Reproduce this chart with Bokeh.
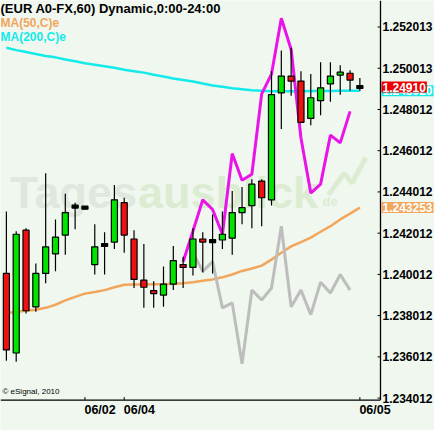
from bokeh.plotting import figure
from bokeh.models import Range1d, Label
from bokeh.core.properties import value
from bokeh.embed import file_html
from bokeh.resources import INLINE

# ---------------- data ----------------
TITLE = "(EUR A0-FX,60) Dynamic,0:00-24:00"
MA50_NAME = "MA(50,C)e"
MA200_NAME = "MA(200,C)e"
COPYRIGHT = "© eSignal, 2010"

OPEN = [1.24006, 1.23620, 1.24216, 1.23844, 1.24006, 1.24101, 1.24192, 1.24330, 1.24325, 1.24049,
        1.24144, 1.24158, 1.24349, 1.24173, 1.23973, 1.23920, 1.23901, 1.23954, 1.24049, 1.24035,
        1.24173, 1.24163, 1.24168, 1.24177, 1.24301, 1.24335, 1.24454, 1.24363, 1.24882, 1.24963,
        1.24939, 1.24758, 1.24844, 1.24925, 1.24968, 1.24977, 1.24910]
HIGH = [1.24306, 1.24211, 1.24225, 1.24054, 1.24492, 1.24268, 1.24392, 1.24349, 1.24330, 1.24244,
        1.24206, 1.24435, 1.24373, 1.24216, 1.24149, 1.23968, 1.24039, 1.24139, 1.24087, 1.24225,
        1.24206, 1.24292, 1.24306, 1.24406, 1.24425, 1.24463, 1.24463, 1.24987, 1.25087, 1.25101,
        1.24987, 1.24973, 1.25030, 1.25030, 1.25016, 1.24992, 1.24954]
LOW = [1.23582, 1.23577, 1.23811, 1.23820, 1.23958, 1.24016, 1.24096, 1.24220, 1.24320, 1.24001,
       1.24001, 1.24125, 1.24106, 1.23935, 1.23839, 1.23839, 1.23844, 1.23925, 1.23935, 1.23996,
       1.24011, 1.24006, 1.24125, 1.24096, 1.24244, 1.24225, 1.24235, 1.24335, 1.24706, 1.24868,
       1.24735, 1.24725, 1.24773, 1.24839, 1.24873, 1.24892, 1.24892]
CLOSE = [1.23635, 1.24196, 1.23825, 1.24006, 1.24135, 1.24182, 1.24301, 1.24330, 1.24325, 1.24135,
         1.24144, 1.24363, 1.24192, 1.23977, 1.23939, 1.23911, 1.23954, 1.24068, 1.24035, 1.24173,
         1.24158, 1.24163, 1.24196, 1.24301, 1.24325, 1.24439, 1.24373, 1.24873, 1.24963, 1.24939,
         1.24739, 1.24858, 1.24906, 1.24963, 1.24982, 1.24944, 1.24910]

MA50 = [1.23813, 1.23820, 1.23825, 1.23830, 1.23839, 1.23854, 1.23875, 1.23892, 1.23908, 1.23916,
        1.23925, 1.23939, 1.23951, 1.23952, 1.23952, 1.23954, 1.23954, 1.23956, 1.23958, 1.23963,
        1.23970, 1.23977, 1.23987, 1.24001, 1.24018, 1.24030, 1.24044, 1.24073, 1.24106, 1.24137,
        1.24158, 1.24180, 1.24208, 1.24235, 1.24268, 1.24296, 1.243253]
MA200 = [1.25101, 1.25089, 1.25080, 1.25070, 1.25061, 1.25054, 1.25044, 1.25035, 1.25025, 1.25018,
         1.25011, 1.25004, 1.24994, 1.24987, 1.24980, 1.24970, 1.24961, 1.24951, 1.24944, 1.24937,
         1.24927, 1.24918, 1.24911, 1.24904, 1.24899, 1.24894, 1.24892, 1.24890, 1.24890, 1.24890,
         1.24890, 1.24891, 1.24891, 1.24891, 1.24892, 1.24892, 1.24892]

MAGENTA_START = 18
MAGENTA = [1.24063, 1.24211, 1.24363, 1.24316, 1.24196, 1.24587, 1.24458, 1.24487, 1.24877,
           1.24973, 1.25244, 1.25092, 1.24663, 1.24396, 1.24439, 1.24677, 1.24639, 1.24792]
GREY_START = 19
GREY = [1.24106, 1.24016, 1.24063, 1.23839, 1.23863, 1.23568, 1.23925, 1.23877, 1.23935,
        1.24235, 1.23844, 1.23925, 1.23806, 1.23963, 1.23911, 1.24001, 1.23925]

YTICKS = [1.234012, 1.236012, 1.238012, 1.240012, 1.242012, 1.244012, 1.246012, 1.248012,
          1.250013, 1.252013]
XTICK_POS = [8, 12, 36]
XTICK_LABELS = ["06/02", "06/04", "06/05"]

LAST_CLOSE_TXT = "1.24910"
MA50_LAST_TXT = "1.243253"
MA200_LAST_TXT = "1.248920"

# ---------------- layout helpers (reference-pixel -> data) ----------------
BG = "#eff7ee"
GREEN = "#00e400"
RED = "#ee1111"
CYAN = "#14eaea"
ORANGE = "#f2a65c"
FONT = "Liberation Sans"
PX_PER_BAR = 10.0
PX_PER_UNIT = 21000.0
XS = -0.6
YE = 1.253298
W_REF, H_REF = 442.0, 438.0
PLOT_R, PLOT_B = 387.0, 407.0   # right axis line / bottom axis line


def X(px):
    return XS + px / PX_PER_BAR


def Y(py):
    return YE - py / PX_PER_UNIT


p = figure(width=434, height=430, x_range=Range1d(X(0), X(W_REF)),
           y_range=Range1d(Y(H_REF), Y(0)), output_backend="svg",
           toolbar_location=None, x_axis_location=None, y_axis_location=None)
p.title.visible = False
p.min_border = 0
p.min_border_left = 0
p.min_border_right = 0
p.min_border_top = 0
p.min_border_bottom = 0
p.background_fill_color = BG
p.border_fill_color = BG
p.outline_line_color = None
p.grid.visible = False

# watermark
p.text(x=[X(10)], y=[Y(196)], text=["Tages"], text_font=value(FONT), text_font_style="bold",
       text_font_size="45px", text_color="#e0e7de", text_baseline="alphabetic")
p.text(x=[X(140)], y=[Y(196)], text=["ausblick"], text_font=value(FONT), text_font_style="bold",
       text_font_size="45px", text_color="#dbecd3", text_baseline="alphabetic")
p.text(x=[X(328)], y=[Y(205)], text=["de"], text_font=value(FONT), text_font_style="bold",
       text_font_size="13px", text_color="#dbecd3", text_baseline="alphabetic")
p.line(x=[X(334), X(350), X(358), X(372)], y=[Y(198), Y(176), Y(186), Y(160)],
       line_color="#dbecd3", line_width=5)

# indicator lines (behind candles)
p.line(x=list(range(len(MA200))), y=MA200, line_color=CYAN, line_width=2.5)
p.line(x=list(range(len(MA50))), y=MA50, line_color=ORANGE, line_width=2.5)
p.line(x=list(range(GREY_START, GREY_START + len(GREY))), y=GREY, line_color="#bdbdbd",
       line_width=3)
p.line(x=list(range(MAGENTA_START, MAGENTA_START + len(MAGENTA))), y=MAGENTA,
       line_color="#ea14ea", line_width=3)

# candles
idx = list(range(len(OPEN)))
p.segment(x0=idx, y0=HIGH, x1=idx, y1=LOW, line_color="black", line_width=1.2)
min_half = 1.5 / PX_PER_UNIT
tops, bots, cols = [], [], []
for o, c in zip(OPEN, CLOSE):
    t, b = max(o, c), min(o, c)
    if t - b < 2 * min_half:
        mid = (t + b) / 2
        t, b = mid + min_half, mid - min_half
    tops.append(t)
    bots.append(b)
    cols.append(GREEN if c > o else (RED if c < o else "black"))
p.vbar(x=idx, top=tops, bottom=bots, width=0.62, fill_color=cols, line_color="black",
       line_width=1.2)

# ---- axes (price scale on the right, time scale below) ----
p.segment(x0=[X(PLOT_R), X(0)], y0=[Y(0), Y(PLOT_B)], x1=[X(PLOT_R), X(PLOT_R)],
          y1=[Y(PLOT_B), Y(PLOT_B)], line_color="black", line_width=1.3)
p.segment(x0=[X(PLOT_R - 3)] * len(YTICKS), y0=YTICKS, x1=[X(PLOT_R)] * len(YTICKS),
          y1=YTICKS, line_color="black", line_width=1)
p.segment(x0=XTICK_POS, y0=[Y(PLOT_B)] * len(XTICK_POS), x1=XTICK_POS,
          y1=[Y(PLOT_B - 3)] * len(XTICK_POS), line_color="black", line_width=1)
p.text(x=[X(PLOT_R + 2)] * len(YTICKS), y=YTICKS, text=[f"{v:.6f}" for v in YTICKS],
       text_align="left", text_baseline="middle", text_font=value(FONT),
       text_font_style="bold", text_font_size="12px", text_color="black")
p.text(x=[t - 0.05 for t in XTICK_POS], y=[Y(PLOT_B + 3)] * len(XTICK_POS), text=XTICK_LABELS,
       text_align="left", text_baseline="top", text_font=value(FONT),
       text_font_style="bold", text_font_size="12.5px", text_color="black")

# texts
p.add_layout(Label(x=X(0), y=Y(1), text=TITLE, text_baseline="top", text_align="left",
                   text_font=FONT, text_font_style="bold", text_font_size="13px",
                   text_color="black"))
p.add_layout(Label(x=X(0), y=Y(16), text=MA50_NAME, text_baseline="top", text_align="left",
                   text_font=FONT, text_font_style="bold", text_font_size="12px",
                   text_color=ORANGE))
p.add_layout(Label(x=X(0), y=Y(30), text=MA200_NAME, text_baseline="top", text_align="left",
                   text_font=FONT, text_font_style="bold", text_font_size="12px",
                   text_color=CYAN))
p.add_layout(Label(x=X(2), y=Y(398), text=COPYRIGHT, text_baseline="middle", text_align="left",
                   text_font=FONT, text_font_size="8px", text_color="black"))

# value boxes on the price scale
for val, txt, col in [(MA200[-1], MA200_LAST_TXT, CYAN),
                      (CLOSE[-1], LAST_CLOSE_TXT, "#ee0000"),
                      (MA50[-1], MA50_LAST_TXT, ORANGE)]:
    p.add_layout(Label(x=X(PLOT_R + 1), y=val, text=txt,
                       text_baseline="middle", text_align="left", text_font=FONT,
                       text_font_style="bold", text_font_size="12px", text_color="white",
                       background_fill_color=col, padding=1))

open("out.html", "w").write(file_html(p, INLINE))
